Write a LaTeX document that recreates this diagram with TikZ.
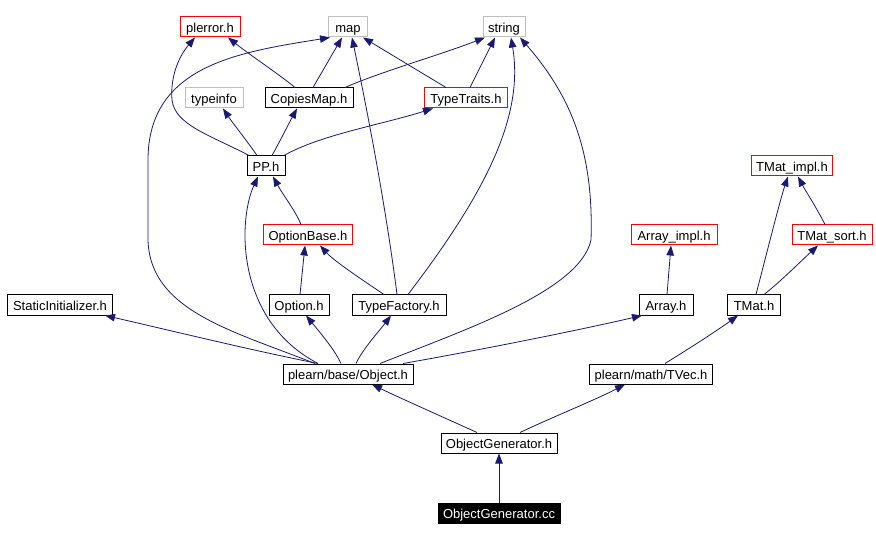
\documentclass[tikz,border=0pt]{standalone}
\usepackage{fontspec}
\setmainfont{Liberation Sans}
\usetikzlibrary{arrows.meta}
\definecolor{navyc}{HTML}{191970}
\definecolor{grayc}{HTML}{BFBFBF}
\tikzset{
  box/.style={draw=black, line width=1pt, minimum height=20pt, inner sep=0pt, text height=11.5pt, text depth=0.5pt, font=\fontsize{13}{15}\selectfont, text=black},
  redbox/.style={box, draw=red},
  graybox/.style={box, draw=grayc},
  mainbox/.style={box, fill=black, text=white},
  edge/.style={draw=navyc, line width=0.8pt, -{Triangle[length=10pt,width=7.5pt]}}
}
\begin{document}
\begin{tikzpicture}[x=1pt,y=-1pt]
\useasboundingbox (0,0) rectangle (876,540);
% nodes
\node[redbox, minimum width=60pt] (plerror) at (210,27) {plerror.h};
\node[graybox, minimum width=39pt] (map) at (348,27) {map};
\node[graybox, minimum width=42pt] (string) at (504,27) {string};
\node[graybox, minimum width=58pt] (typeinfo) at (214,98) {typeinfo};
\node[box, minimum width=88pt] (copies) at (309,98) {CopiesMap.h};
\node[redbox, minimum width=83pt] (traits) at (466,98) {TypeTraits.h};
\node[box, minimum width=38pt] (pp) at (266,166) {PP.h};
\node[redbox, minimum width=81pt] (tmatimpl) at (792,166) {TMat\_impl.h};
\node[redbox, minimum width=89pt] (optbase) at (308,235) {OptionBase.h};
\node[redbox, minimum width=86pt] (arrimpl) at (674,235) {Array\_impl.h};
\node[redbox, minimum width=80pt] (tmatsort) at (832,235) {TMat\_sort.h};
\node[box, minimum width=105pt] (static) at (60,305) {StaticInitializer.h};
\node[box, minimum width=60pt] (option) at (299,305) {Option.h};
\node[box, minimum width=94pt] (typefac) at (399,305) {TypeFactory.h};
\node[box, minimum width=54pt] (array) at (666,305) {Array.h};
\node[box, minimum width=53pt] (tmat) at (754,305) {TMat.h};
\node[box, minimum width=130pt] (object) at (348,374) {plearn/base/Object.h};
\node[box, minimum width=123pt] (tvec) at (651,374) {plearn/math/TVec.h};
\node[box, minimum width=116pt] (ogh) at (499,443) {ObjectGenerator.h};
\node[mainbox, minimum width=122pt] (ogcc) at (499,513) {ObjectGenerator.cc};
% edges
\draw[edge] (ogcc) -- (ogh);
\draw[edge] ([xshift=-22]ogh.north) .. controls (445,418) and (400,398) .. ([xshift=24]object.south);
\draw[edge] ([xshift=21]ogh.north) .. controls (555,416) and (595,400) .. ([xshift=-26]tvec.south);
\draw[edge] ([xshift=14]tvec.north) .. controls (690,348) and (715,332) .. ([xshift=-16]tmat.south);
\draw[edge] ([xshift=2]tmat.north) .. controls (765,260) and (780,200) .. ([xshift=-4]tmatimpl.south);
\draw[edge] ([xshift=10]tmat.north) .. controls (780,282) and (800,262) .. ([xshift=-14]tmatsort.south);
\draw[edge] ([xshift=-7]tmatsort.north) .. controls (815,205) and (805,190) .. ([xshift=6]tmatimpl.south);
\draw[edge] ([xshift=1]array.north) -- ([xshift=-3]arrimpl.south);
\draw[edge] ([xshift=-30]object.north) .. controls (250,350) and (160,328) .. ([xshift=45]static.south);
\draw[edge] ([xshift=-7]object.north) .. controls (335,350) and (318,330) .. ([xshift=7]option.south);
\draw[edge] ([xshift=8]object.north) .. controls (362,350) and (380,330) .. ([xshift=-8]typefac.south);
\draw[edge] ([xshift=55]object.north) .. controls (480,350) and (580,330) .. ([xshift=-24]array.south);
\draw[edge] ([xshift=32]object.north) .. controls (470,328) and (580,290) .. (591,240) .. controls (594,150) and (570,95) .. ([xshift=16]string.south);
\draw[edge] ([xshift=-30]object.north) .. controls (235,320) and (238,220) .. ([xshift=-8]pp.south);
\draw[edge] ([xshift=-33]object.north) .. controls (230,330) and (150,310) .. (148,240) -- (148,160) .. controls (148,65) and (240,52) .. ([xshift=-18]map.south);
\draw[edge] ([xshift=-2]typefac.north) .. controls (385,200) and (365,100) .. ([xshift=4]map.south);
\draw[edge] ([xshift=9]typefac.north) .. controls (480,200) and (525,120) .. ([xshift=7]string.south);
\draw[edge] ([xshift=-7]optbase.north) .. controls (295,210) and (283,195) .. ([xshift=7]pp.south);
\draw[edge] ([xshift=1]option.north) -- ([xshift=-3]optbase.south);
\draw[edge] ([xshift=-15]typefac.north) .. controls (370,285) and (335,262) .. ([xshift=12]optbase.south);
\draw[edge] ([xshift=-17]pp.north) .. controls (210,135) and (175,125) .. (172,100) .. controls (170,75) and (180,55) .. ([xshift=-15]plerror.south);
\draw[edge] ([xshift=-9]pp.north) .. controls (250,145) and (232,122) .. ([xshift=9]typeinfo.south);
\draw[edge] ([xshift=6]pp.north) .. controls (278,145) and (288,125) .. ([xshift=-12]copies.south);
\draw[edge] ([xshift=18]pp.north) .. controls (320,135) and (380,125) .. ([xshift=-33]traits.south);
\draw[edge] ([xshift=-14]copies.north) .. controls (280,75) and (250,55) .. ([xshift=18]plerror.south);
\draw[edge] ([xshift=4]copies.north) -- ([xshift=-6]map.south);
\draw[edge] ([xshift=36]copies.north) .. controls (380,72) and (440,55) .. ([xshift=-19]string.south);
\draw[edge] ([xshift=-20]traits.north) -- ([xshift=15]map.south);
\draw[edge] ([xshift=4]traits.north) -- ([xshift=-9]string.south);
\end{tikzpicture}
\end{document}
